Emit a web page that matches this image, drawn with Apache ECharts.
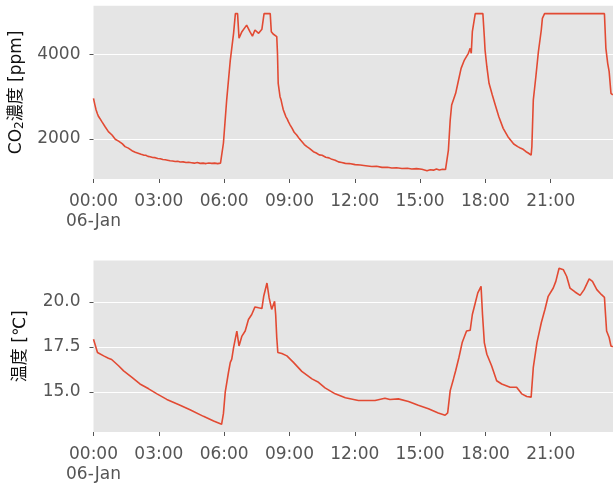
<!DOCTYPE html>
<html>
<head>
<meta charset="utf-8">
<script src="https://cdn.jsdelivr.net/npm/echarts@6/dist/echarts.min.js"></script>
<style>
html,body{margin:0;padding:0;background:#fff;}
#chart{width:613px;height:485px;}
</style>
</head>
<body>
<div id="chart"></div>
<script>
// ---- data ----
const co2Times = [
  "00:00","00:04","00:07","00:11","00:14","00:18","00:23","00:27","00:32","00:36","00:41","00:46","00:51","00:55",
  "01:00","01:05","01:09","01:14","01:19","01:23","01:27","01:32","01:36","01:41","01:46","01:50","01:55","01:59",
  "02:05","02:11","02:18","02:24","02:30","02:36","02:43","02:50","02:57","03:04","03:11","03:18","03:24","03:31",
  "03:38","03:45","03:52","03:59","04:07","04:15","04:22","04:30","04:38","04:46","04:54","05:02","05:10","05:18",
  "05:26","05:34","05:42","05:50","05:55",
  "05:58","06:07","06:17","06:26","06:31","06:37","06:41","06:49","07:02","07:11","07:18","07:25","07:35","07:44","07:50",
  "08:07","08:10","08:15","08:20","08:25","08:27","08:29","08:34",
  "08:37","08:40","08:43","08:47","08:50","08:54","08:57","09:02","09:07","09:13","09:20","09:27","09:34","09:41",
  "09:48","09:55","10:06","10:14","10:22","10:30","10:40","10:49","10:57","11:06","11:15","11:24","11:34","11:45",
  "12:01","12:15","12:30","12:47","13:00","13:15","13:30","13:42","13:55","14:10","14:25","14:37","14:50","15:05",
  "15:19","15:28","15:37","15:45","15:53","16:02","16:10","16:14",
  "16:18","16:23","16:27","16:32","16:38","16:46","16:53","17:02","17:13","17:18","17:21","17:24","17:32",
  "17:53","17:57","17:59","18:04","18:10","18:19","18:28","18:37","18:49","19:02","19:18","19:29","19:36","19:44",
  "19:52","19:58","20:03","20:06","20:08","20:12","20:19","20:26","20:34","20:37","20:43",
  "23:28","23:32","23:37","23:41","23:46","23:51"];
const co2Values = [
  2960,2800,2690,2590,2530,2480,2410,2370,2290,2250,2175,2140,2095,2060,
  1995,1975,1950,1915,1890,1845,1820,1800,1785,1740,1725,1700,1690,1675,
  1660,1640,1620,1615,1590,1582,1565,1560,1540,1535,1515,1510,1500,1488,
  1480,1470,1475,1457,1460,1445,1450,1440,1430,1445,1425,1430,1420,1435,
  1425,1430,1420,1430,1425,
  1900,2920,3865,4495,4960,4960,4380,4535,4690,4535,4430,4575,4495,4590,4960,
  4960,4535,4480,4495,4420,4025,3315,3000,
  2920,2800,2690,2600,2530,2470,2410,2330,2255,2160,2095,2010,1940,1870,
  1820,1780,1700,1670,1625,1615,1570,1555,1520,1500,1460,1445,1425,1420,
  1395,1385,1370,1350,1355,1330,1335,1315,1320,1305,1310,1292,1300,1285,
  1252,1275,1265,1290,1270,1285,1280,1285,
  1740,2449,2803,2843,3079,3393,3669,3865,4024,4142,4024,4534,4960,
  4960,4416,4102,3707,3315,3039,2779,2527,2252,2055,1882,1820,1790,1757,
  1700,1670,1646,1620,1818,2921,3471,4061,4574,4850,4960,
  4960,4142,3787,3590,3079,3040];

const tempTimes = ["00:00","00:11","00:28","00:41","00:50","01:09","01:23","01:46","02:08","02:32","02:55","03:22","03:54",
  "04:26","05:03","05:31","05:53","05:58","06:03","06:12","06:17","06:21","06:26","06:35","06:41","06:49","06:58","07:07",
  "07:16","07:25","07:35","07:44","07:49","07:58","08:04","08:11","08:19","08:22","08:25","08:28","08:39","08:53","09:11",
  "09:34","10:02","10:20","10:38","11:06","11:34","12:10","12:56","13:23","13:37","14:00","14:28","14:55","15:23","15:50",
  "16:09","16:16","16:23","16:32","16:38","16:47","16:56","17:08","17:18","17:24","17:32","17:39","17:48","17:52","17:57",
  "18:04","18:17","18:31","18:45","19:08","19:26","19:40","19:54","20:06","20:12","20:22","20:34","20:44","20:53","21:07",
  "21:14","21:23","21:35","21:44","21:53","22:07","22:21","22:32","22:46","22:55","23:07","23:20","23:28","23:31","23:34",
  "23:41","23:46","23:51"];
const tempValues = [17.92,17.19,17.00,16.87,16.80,16.45,16.17,15.81,15.44,15.17,14.89,14.58,14.30,
  14.01,13.64,13.38,13.20,13.79,14.98,16.09,16.64,16.82,17.46,18.38,17.55,18.10,18.38,19.02,
  19.30,19.72,19.67,19.63,20.31,21.05,20.22,19.58,20.03,19.30,18.02,17.19,17.13,17.00,16.64,
  16.14,15.72,15.53,15.22,14.89,14.67,14.52,14.52,14.65,14.58,14.61,14.47,14.25,14.06,13.83,
  13.70,13.83,15.07,15.72,16.17,16.91,17.74,18.38,18.42,19.30,19.94,20.50,20.86,19.30,17.74,
  17.09,16.45,15.62,15.44,15.26,15.26,14.89,14.74,14.71,16.36,17.74,18.84,19.58,20.31,20.77,
  21.14,21.87,21.78,21.41,20.77,20.55,20.36,20.68,21.28,21.14,20.68,20.40,20.25,19.30,18.38,
  18.02,17.55,17.50];

const xTickLabels = ["00:00\n06-Jan","03:00","06:00","09:00","12:00","15:00","18:00","21:00"];
const co2Ticks = [2000, 4000];
const tempTicks = [15.0, 17.5, 20.0];

// ---- helpers ----
function toHours(t){ const p=t.split(":"); return (+p[0]) + (+p[1])/60; }
function pairs(times, vals){ return times.map((t,i)=>[toHours(t), vals[i]]); }

const BG = '#E5E5E5', LINE = '#E24A33', TICKC = '#555555';
const FONT = '"DejaVu Sans","Noto Sans CJK JP",sans-serif';

function xAxisCfg(gi){
  return {
    type:'value', gridIndex:gi, min:0, max:23.86, interval:3,
    axisLine:{show:false},
    axisTick:{show:true, length:4, lineStyle:{color:TICKC, width:1}},
    splitLine:{show:false},
    axisLabel:{
      show:true, showMaxLabel:false, fontSize:17, lineHeight:20, color:TICKC, margin:13,
      fontFamily:FONT,
      formatter:(v)=>{ const k=Math.round(v/3); return Math.abs(v-3*k)<1e-6 && k<xTickLabels.length ? xTickLabels[k] : ''; }
    }
  };
}

const chart = echarts.init(document.getElementById('chart'), null, {renderer:'canvas'});
chart.setOption({
  animation:false,
  backgroundColor:'#ffffff',
  grid:[
    {left:93.5, right:0, top:5.7, height:173.3, show:true, backgroundColor:BG, borderWidth:0},
    {left:93.5, right:0, top:260.5, height:173, show:true, backgroundColor:BG, borderWidth:0}
  ],
  xAxis:[xAxisCfg(0), xAxisCfg(1)],
  yAxis:[
    {
      type:'value', gridIndex:0, min:1056, max:5148,
      name:'CO{s|2}濃度 [ppm]', nameLocation:'middle', nameGap:68,
      nameTextStyle:{fontSize:17, color:'#111', fontFamily:FONT,
        rich:{s:{fontSize:12, lineHeight:12, verticalAlign:'bottom', color:'#111', fontFamily:FONT}}},
      axisLine:{show:false},
      axisTick:{show:true, length:4, customValues:co2Ticks, lineStyle:{color:TICKC}},
      axisLabel:{customValues:co2Ticks, fontSize:17, color:TICKC, margin:13, fontFamily:FONT,
        formatter:(v)=>String(Math.round(v))},
      splitLine:{show:true, lineStyle:{color:'#ffffff', width:1.2}}
    },
    {
      type:'value', gridIndex:1, min:12.77, max:22.30,
      name:'温度 [℃]', nameLocation:'middle', nameGap:64,
      nameTextStyle:{fontSize:17, color:'#111', fontFamily:FONT},
      axisLine:{show:false},
      axisTick:{show:true, length:4, customValues:tempTicks, lineStyle:{color:TICKC}},
      axisLabel:{customValues:tempTicks, fontSize:17, color:TICKC, margin:13, fontFamily:FONT,
        formatter:(v)=>v.toFixed(1)},
      splitLine:{show:true, lineStyle:{color:'#ffffff', width:1.2}}
    }
  ],
  series:[
    {type:'line', xAxisIndex:0, yAxisIndex:0, data:pairs(co2Times, co2Values), showSymbol:false,
     lineStyle:{color:LINE, width:1.6}, itemStyle:{color:LINE}, clip:true},
    {type:'line', xAxisIndex:1, yAxisIndex:1, data:pairs(tempTimes, tempValues), showSymbol:false,
     lineStyle:{color:LINE, width:1.6}, itemStyle:{color:LINE}, clip:true}
  ]
});
</script>
</body>
</html>
